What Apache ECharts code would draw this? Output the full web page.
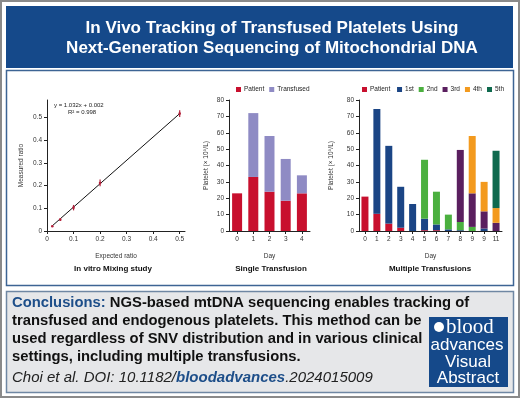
<!DOCTYPE html>
<html>
<head>
<meta charset="utf-8">
<script src="https://cdn.jsdelivr.net/npm/echarts@6/dist/echarts.min.js"></script>
<style>
  html, body { margin: 0; padding: 0; background: #fff; }
  #chart { width: 520px; height: 398px; }
</style>
</head>
<body>
<div id="chart"></div>
<script>
// mixing study
const expectedRatio = [0.02, 0.05, 0.1, 0.2, 0.5];
const measuredRatio = [0.021, 0.05, 0.103, 0.212, 0.518];
const measuredErr = [0.003, 0.006, 0.012, 0.015, 0.015];
const fitLine = [[0.02, 0.023], [0.5, 0.518]];
const ratioTicks = [0, 0.1, 0.2, 0.3, 0.4, 0.5];

// single transfusion
const singleDays = ['0', '1', '2', '3', '4'];
const singlePatient = [23, 33, 24, 18.5, 23];
const singleTransfused = [0, 39, 34, 25.5, 11];

// multiple transfusions (tick labels as printed)
const multiDays = ['0', '1', '2', '3', '4', '5', '6', '7', '8', '9', '9', '11'];
const multiPatient = [21, 10.5, 4.5, 2, 0, 0.5, 0.5, 0, 0, 0, 0, 0];
const multi1st = [0, 64, 47.5, 25, 16.5, 7, 3.5, 1, 0.5, 0, 1.5, 0];
const multi2nd = [0, 0, 0, 0, 0, 36, 20, 9, 5, 2.5, 0, 0];
const multi3rd = [0, 0, 0, 0, 0, 0, 0, 0, 44, 20.5, 10.5, 5];
const multi4th = [0, 0, 0, 0, 0, 0, 0, 0, 0, 35, 18, 9];
const multi5th = [0, 0, 0, 0, 0, 0, 0, 0, 0, 0, 0, 35];

const RED = '#c8102e';
const LAV = '#8f8bc4';
const BLUE = '#1b4585';
const GREEN = '#4bb03f';
const PURPLE = '#5a1f5f';
const ORANGE = '#f39a1e';
const DKGREEN = '#0f6a4e';
const NAVY = '#15498a';

const FONT = 'Liberation Sans';
const tickFont = { fontSize: 6.5, color: '#333', fontFamily: FONT };
const nameFont = { fontSize: 6.5, color: '#333', fontFamily: FONT };

function axisCommon() {
  return {
    axisLine: { show: true, lineStyle: { color: '#222', width: 1 } },
    axisTick: { show: true, length: 3, lineStyle: { color: '#222' } },
    splitLine: { show: false },
    axisLabel: Object.assign({ margin: 5 }, tickFont),
    nameTextStyle: nameFont
  };
}

const chart = echarts.init(document.getElementById('chart'));

const option = {
  animation: false,
  backgroundColor: '#fff',
  textStyle: { fontFamily: FONT },
  grid: [
    { left: 47, top: 100, width: 138, height: 131 },
    { left: 229, top: 100, width: 81, height: 131 },
    { left: 359, top: 100, width: 143, height: 131 }
  ],
  legend: [
    {
      data: ['Patient', 'Transfused'],
      left: 236, top: 86, itemWidth: 5, itemHeight: 5, itemGap: 5,
      icon: 'rect', textStyle: { fontSize: 6.5, color: '#222', padding: [0, 0, 0, -2] },
      padding: 0
    },
    {
      data: ['Patient ', '1st', '2nd', '3rd', '4th', '5th'],
      left: 362, top: 86, itemWidth: 5, itemHeight: 5, itemGap: 5,
      icon: 'rect', textStyle: { fontSize: 6.5, color: '#222', padding: [0, 0, 0, -2] },
      padding: 0
    }
  ],
  xAxis: [
    Object.assign(axisCommon(), {
      gridIndex: 0, type: 'value', min: 0, max: 0.52,
      name: 'Expected ratio', nameLocation: 'middle', nameGap: 22,
      axisLabel: Object.assign({ margin: 5, customValues: ratioTicks }, tickFont),
      axisTick: { show: true, length: 3, customValues: ratioTicks, lineStyle: { color: '#222' } }
    }),
    Object.assign(axisCommon(), {
      gridIndex: 1, type: 'category', data: singleDays,
      name: 'Day', nameLocation: 'middle', nameGap: 22,
      axisTick: { show: true, length: 3, alignWithLabel: true, lineStyle: { color: '#222' } }
    }),
    Object.assign(axisCommon(), {
      gridIndex: 2, type: 'category', data: multiDays.map((d, i) => 'c' + i),
      name: 'Day', nameLocation: 'middle', nameGap: 22,
      axisLabel: Object.assign({ margin: 5, interval: 0, formatter: (v, i) => multiDays[i] }, tickFont),
      axisTick: { show: true, length: 3, interval: 0, alignWithLabel: true, lineStyle: { color: '#222' } }
    })
  ],
  yAxis: [
    Object.assign(axisCommon(), {
      gridIndex: 0, type: 'value', min: 0, max: 0.578,
      name: 'Measured ratio', nameLocation: 'middle', nameGap: 22,
      axisLabel: Object.assign({ margin: 5, customValues: ratioTicks }, tickFont),
      axisTick: { show: true, length: 3, customValues: ratioTicks, lineStyle: { color: '#222' } }
    }),
    Object.assign(axisCommon(), {
      gridIndex: 1, type: 'value', min: 0, max: 80, interval: 10,
      name: 'Platelet (× 10⁹/L)', nameLocation: 'middle', nameGap: 19
    }),
    Object.assign(axisCommon(), {
      gridIndex: 2, type: 'value', min: 0, max: 80, interval: 10,
      name: 'Platelet (× 10⁹/L)', nameLocation: 'middle', nameGap: 24
    })
  ],
  series: [
    {
      type: 'line', xAxisIndex: 0, yAxisIndex: 0, data: fitLine,
      symbol: 'none', lineStyle: { color: '#111', width: 1 }, z: 2
    },
    {
      type: 'custom', xAxisIndex: 0, yAxisIndex: 0,
      data: expectedRatio.map((x, i) => [x, measuredRatio[i], measuredErr[i]]),
      renderItem: function (params, api) {
        const x = api.value(0), y = api.value(1), e = api.value(2);
        const top = api.coord([x, y + e]);
        const bot = api.coord([x, y - e]);
        const mid = api.coord([x, y]);
        return {
          type: 'group',
          children: [
            { type: 'line', shape: { x1: top[0], y1: top[1], x2: bot[0], y2: bot[1] },
              style: { stroke: '#b3203a', lineWidth: 1.2 } },
            { type: 'circle', shape: { cx: mid[0], cy: mid[1], r: 1.3 },
              style: { fill: '#b3203a' } }
          ]
        };
      },
      z: 3
    },
    { name: 'Patient', type: 'bar', xAxisIndex: 1, yAxisIndex: 1, stack: 's', data: singlePatient,
      barWidth: 10, itemStyle: { color: RED } },
    { name: 'Transfused', type: 'bar', xAxisIndex: 1, yAxisIndex: 1, stack: 's', data: singleTransfused,
      barWidth: 10, itemStyle: { color: LAV } },
    { name: 'Patient ', type: 'bar', xAxisIndex: 2, yAxisIndex: 2, stack: 'm', data: multiPatient,
      barWidth: 7, itemStyle: { color: RED } },
    { name: '1st', type: 'bar', xAxisIndex: 2, yAxisIndex: 2, stack: 'm', data: multi1st,
      barWidth: 7, itemStyle: { color: BLUE } },
    { name: '2nd', type: 'bar', xAxisIndex: 2, yAxisIndex: 2, stack: 'm', data: multi2nd,
      barWidth: 7, itemStyle: { color: GREEN } },
    { name: '3rd', type: 'bar', xAxisIndex: 2, yAxisIndex: 2, stack: 'm', data: multi3rd,
      barWidth: 7, itemStyle: { color: PURPLE } },
    { name: '4th', type: 'bar', xAxisIndex: 2, yAxisIndex: 2, stack: 'm', data: multi4th,
      barWidth: 7, itemStyle: { color: ORANGE } },
    { name: '5th', type: 'bar', xAxisIndex: 2, yAxisIndex: 2, stack: 'm', data: multi5th,
      barWidth: 7, itemStyle: { color: DKGREEN } }
  ],
  graphic: [
    // frames
    { type: 'rect', z: -10, shape: { x: 1, y: 1, width: 518, height: 396 },
      style: { fill: '#fff', stroke: '#8a8a8a', lineWidth: 2 } },
    { type: 'rect', z: -9, shape: { x: 6, y: 6, width: 507, height: 62 },
      style: { fill: NAVY } },
    { type: 'rect', z: -9, shape: { x: 6.5, y: 70.5, width: 507, height: 215 },
      style: { fill: '#fff', stroke: '#3d6494', lineWidth: 1.5 } },
    { type: 'rect', z: -9, shape: { x: 6.5, y: 291.5, width: 507, height: 101 },
      style: { fill: '#e6e7e9', stroke: '#6f87a3', lineWidth: 1.5 } },
    // header
    { type: 'text', z: 100, style: { x: 272, y: 28, text: 'In Vivo Tracking of Transfused Platelets Using',
      fill: '#fff', font: 'bold 17px "Liberation Sans"', textAlign: 'center', textVerticalAlign: 'middle' } },
    { type: 'text', z: 100, style: { x: 272, y: 48, text: 'Next-Generation Sequencing of Mitochondrial DNA',
      fill: '#fff', font: 'bold 17px "Liberation Sans"', textAlign: 'center', textVerticalAlign: 'middle' } },
    // equation
    { type: 'text', z: 100, style: { x: 54, y: 105, text: 'y = 1.032x + 0.002',
      fill: '#222', font: '6px "Liberation Sans"', textVerticalAlign: 'middle' } },
    { type: 'text', z: 100, style: { x: 68, y: 112, text: 'R² = 0.998',
      fill: '#222', font: '6px "Liberation Sans"', textVerticalAlign: 'middle' } },
    // panel captions
    { type: 'text', z: 100, style: { x: 113, y: 269, text: 'In vitro Mixing study',
      fill: '#111', font: 'bold 8px "Liberation Sans"', textAlign: 'center', textVerticalAlign: 'middle' } },
    { type: 'text', z: 100, style: { x: 271, y: 269, text: 'Single Transfusion',
      fill: '#111', font: 'bold 8px "Liberation Sans"', textAlign: 'center', textVerticalAlign: 'middle' } },
    { type: 'text', z: 100, style: { x: 430, y: 269, text: 'Multiple Transfusions',
      fill: '#111', font: 'bold 8px "Liberation Sans"', textAlign: 'center', textVerticalAlign: 'middle' } },
    // conclusions
    { type: 'text', z: 100, style: { x: 12, y: 303, text: '{c|Conclusions:} NGS-based mtDNA sequencing enables tracking of',
      fill: '#111', font: 'bold 14.8px "Liberation Sans"', textVerticalAlign: 'middle',
      rich: { c: { fill: '#1d4e89', font: 'bold 14.8px "Liberation Sans"' } } } },
    { type: 'text', z: 100, style: { x: 12, y: 321, text: 'transfused and endogenous platelets. This method can be',
      fill: '#111', font: 'bold 14.8px "Liberation Sans"', textVerticalAlign: 'middle' } },
    { type: 'text', z: 100, style: { x: 12, y: 339, text: 'used regardless of SNV distribution and in various clinical',
      fill: '#111', font: 'bold 14.8px "Liberation Sans"', textVerticalAlign: 'middle' } },
    { type: 'text', z: 100, style: { x: 12, y: 357, text: 'settings, including multiple transfusions.',
      fill: '#111', font: 'bold 14.8px "Liberation Sans"', textVerticalAlign: 'middle' } },
    { type: 'text', z: 100, style: { x: 12, y: 378, text: 'Choi et al. DOI: 10.1182/{b|bloodadvances}.2024015009',
      fill: '#222', font: 'italic 15px "Liberation Sans"', textVerticalAlign: 'middle',
      rich: { b: { fill: '#1d4e89', font: 'italic bold 15px "Liberation Sans"' } } } },
    // journal badge
    { type: 'rect', z: 50, shape: { x: 429, y: 317, width: 79, height: 70 }, style: { fill: NAVY } },
    { type: 'circle', z: 100, shape: { cx: 439, cy: 327, r: 5 }, style: { fill: '#fff' } },
    { type: 'text', z: 100, style: { x: 446, y: 327, text: 'blood',
      fill: '#fff', font: '21px "Liberation Serif"', textVerticalAlign: 'middle' } },
    { type: 'text', z: 100, style: { x: 467, y: 345, text: 'advances',
      fill: '#fff', font: '17px "Liberation Sans Narrow", "Liberation Sans"', textAlign: 'center', textVerticalAlign: 'middle' } },
    { type: 'text', z: 100, style: { x: 468, y: 362, text: 'Visual',
      fill: '#fff', font: '17px "Liberation Sans"', textAlign: 'center', textVerticalAlign: 'middle' } },
    { type: 'text', z: 100, style: { x: 468, y: 378, text: 'Abstract',
      fill: '#fff', font: '17px "Liberation Sans"', textAlign: 'center', textVerticalAlign: 'middle' } }
  ]
};

chart.setOption(option);
</script>
</body>
</html>
